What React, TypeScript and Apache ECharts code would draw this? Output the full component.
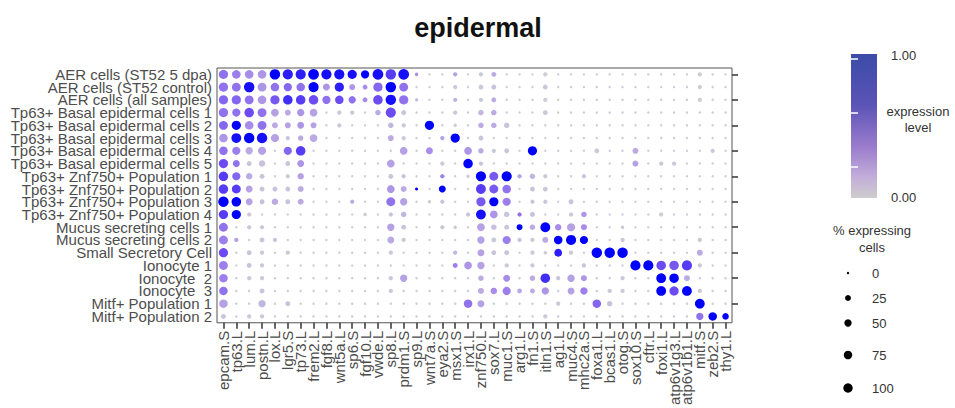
import React, { useEffect, useRef } from "react";
import * as echarts from "echarts";

const titleText = "epidermal";

const genes = [
  "epcam.S", "tp63.L", "lum.L", "postn.L", "lox.L", "lgr5.S", "tp73.L", "frem2.L", "fgf8.L", "wnt5a.L",
  "sp6.S", "fgf10.L", "vwde.L", "sp8.L", "prdm1.S", "sp9.L", "wnt7a.S", "eya2.S", "msx1.S", "irx1.L",
  "znf750.L", "sox7.L", "muc1.S", "arg1.L", "fn1.S", "itln1.S", "ag1.L", "muc4.S", "mhc2a.S", "foxa1.L",
  "bcas1.L", "otog.S", "sox10.S", "cftr.L", "foxi1.L", "atp6v1g3.L", "atp6v1b1.L", "mitf.S", "zeb2.S", "thy1.L",
];

const cellTypes = [
  "AER cells (ST52 5 dpa)",
  "AER cells (ST52 control)",
  "AER cells (all samples)",
  "Tp63+ Basal epidermal cells 1",
  "Tp63+ Basal epidermal cells 2",
  "Tp63+ Basal epidermal cells 3",
  "Tp63+ Basal epidermal cells 4",
  "Tp63+ Basal epidermal cells 5",
  "Tp63+ Znf750+ Population 1",
  "Tp63+ Znf750+ Population 2",
  "Tp63+ Znf750+ Population 3",
  "Tp63+ Znf750+ Population 4",
  "Mucus secreting cells 1",
  "Mucus secreting cells 2",
  "Small Secretory Cell",
  "Ionocyte 1",
  "Ionocyte  2",
  "Ionocyte  3",
  "Mitf+ Population 1",
  "Mitf+ Population 2",
];

// % expressing cells, one row per cell type (same order as cellTypes), one value per gene
const pctByCell = [
  [70,60,60,60,90,85,85,95,85,85,70,55,95,90,95,10,5,5,15,5,15,20,5,5,5,15,5,5,5,5,5,5,5,5,5,5,5,15,5,5],
  [70,65,90,65,60,55,60,85,40,70,30,20,70,90,65,5,5,5,15,5,20,20,5,5,5,20,5,5,5,5,5,5,5,5,5,5,5,15,5,5],
  [70,70,65,60,70,75,75,75,55,60,45,20,75,90,70,8,5,5,15,5,15,20,5,5,5,15,5,5,5,5,5,5,5,5,5,5,5,15,5,5],
  [70,55,75,65,50,30,45,50,5,15,15,5,25,85,20,5,5,5,15,5,25,25,5,5,5,20,5,5,5,5,5,5,5,5,5,5,5,5,5,5],
  [65,70,60,65,30,30,40,30,5,15,5,5,5,25,15,5,70,5,10,5,25,25,25,5,5,5,5,5,5,5,5,5,5,5,5,5,5,5,5,5],
  [60,80,90,90,55,15,25,50,5,5,5,5,5,30,15,5,5,15,70,5,20,5,5,5,5,5,5,5,5,5,5,5,5,5,5,5,5,5,5,5],
  [60,55,45,55,5,55,75,5,5,5,5,5,5,5,50,5,40,5,5,50,25,15,20,5,70,5,5,5,5,20,5,5,30,5,5,5,5,5,15,5],
  [70,40,20,35,5,20,40,5,5,5,5,5,5,50,5,5,5,15,5,75,15,5,5,5,5,5,5,5,5,5,5,5,30,5,15,15,5,5,5,5],
  [75,55,35,20,5,15,35,5,5,5,5,5,5,20,15,5,5,15,5,10,85,65,85,15,25,15,5,5,15,5,5,5,5,5,5,5,5,5,5,5],
  [75,65,40,20,20,20,30,5,5,5,5,5,5,50,30,8,5,40,5,5,80,65,60,5,20,20,5,5,5,5,5,5,5,5,5,5,5,5,5,5],
  [90,75,40,20,35,20,30,5,5,5,15,5,5,65,45,5,10,15,5,5,70,70,55,5,15,15,5,20,5,5,5,5,5,5,5,5,5,5,5,5],
  [70,70,15,5,5,5,5,5,5,5,5,10,5,15,25,5,5,5,5,15,80,50,25,15,20,5,5,15,25,5,5,5,5,5,15,5,5,5,5,5],
  [65,5,15,15,5,5,5,5,5,5,5,5,5,45,20,5,5,15,10,5,50,25,20,30,25,80,35,55,30,5,5,10,5,5,5,5,5,5,5,5],
  [65,15,5,20,15,5,5,5,5,5,5,5,5,40,15,5,5,5,5,5,45,20,55,15,15,30,60,85,55,5,5,15,5,5,5,5,5,15,5,5],
  [70,5,20,15,5,15,5,5,5,5,5,5,5,15,5,5,5,5,15,5,40,20,20,5,15,10,50,15,5,90,90,90,5,5,5,5,5,30,5,5],
  [65,5,20,15,5,5,5,5,5,5,5,5,5,5,5,5,5,5,20,50,45,5,15,5,15,5,5,5,15,5,5,5,85,85,75,75,85,15,5,5],
  [60,5,15,15,5,5,5,5,5,5,5,5,5,15,45,5,5,5,5,5,25,5,40,5,25,75,15,45,30,5,5,15,5,5,80,75,30,5,5,5],
  [60,5,5,20,5,5,5,5,5,5,5,5,5,15,5,5,5,5,5,5,30,35,55,20,20,45,5,40,45,5,15,15,5,5,80,70,80,15,5,5],
  [60,5,5,45,5,20,5,5,5,5,5,5,5,5,5,5,5,5,5,60,40,5,5,5,5,5,15,5,5,60,25,5,5,5,5,5,5,80,5,5],
  [20,5,15,15,5,5,5,5,5,5,5,5,5,5,5,5,5,5,5,5,5,5,5,5,5,15,5,5,5,5,5,5,5,5,5,5,5,45,60,35],
];

// scaled expression level (0-100 = 0.00-1.00), same layout as pctByCell
const exprByCell = [
  [60,55,50,45,100,90,90,100,95,95,95,100,95,80,95,50,10,10,40,10,15,35,10,10,10,10,10,10,10,10,10,10,10,10,10,10,10,10,10,10],
  [60,60,95,45,60,65,60,100,45,90,45,50,65,100,60,10,10,10,15,10,15,25,10,10,10,15,10,10,10,10,10,10,10,10,10,10,10,10,10,10],
  [65,65,60,45,70,85,80,75,60,75,60,50,75,95,60,30,10,10,30,10,15,35,10,10,10,10,10,10,10,10,10,10,10,10,10,10,10,10,10,10],
  [60,60,75,60,40,35,45,40,10,15,15,10,35,75,20,10,10,10,15,10,30,35,10,10,10,15,10,10,10,10,10,10,10,10,10,10,10,10,10,10],
  [65,100,50,60,35,40,45,40,10,15,10,10,10,30,15,10,100,10,10,10,35,35,20,10,10,10,10,10,10,10,10,10,10,10,10,10,10,10,10,10],
  [45,95,100,95,40,20,35,35,10,10,10,10,10,35,15,10,10,40,100,10,20,10,10,10,10,10,10,10,10,10,10,10,10,10,10,10,10,10,10,10],
  [60,55,35,40,10,65,80,10,10,10,10,10,10,10,40,10,50,10,10,45,35,15,20,10,100,10,10,10,10,15,10,10,35,10,10,10,10,10,15,10],
  [75,60,20,25,10,20,45,10,10,10,10,10,10,40,10,10,10,15,10,100,20,10,10,10,10,10,10,10,10,10,10,10,40,10,15,15,10,10,10,10],
  [80,65,35,20,10,15,40,10,10,10,10,10,10,20,20,10,10,55,10,10,100,70,100,40,30,15,10,10,20,10,10,10,10,10,10,10,10,10,10,10],
  [80,80,40,20,25,20,35,10,10,10,10,10,10,45,35,100,10,100,10,10,80,70,60,10,20,15,10,10,10,10,10,10,10,10,10,10,10,10,10,10],
  [100,100,40,25,35,20,35,10,10,10,35,10,10,60,40,10,10,20,10,10,70,100,55,10,20,20,10,20,10,10,10,10,10,10,10,10,10,10,10,10],
  [80,100,15,10,10,10,10,10,10,10,10,15,10,20,30,10,10,10,10,20,95,45,20,60,25,10,10,15,45,10,10,10,10,10,10,10,10,10,10,10],
  [60,10,15,15,10,10,10,10,10,10,10,10,10,40,20,10,10,15,15,10,40,25,20,100,35,100,50,40,50,10,10,15,10,10,10,10,10,10,10,10],
  [55,40,10,20,20,10,10,10,10,10,10,10,10,35,15,10,10,10,10,10,40,15,55,20,15,35,100,100,100,10,10,15,10,10,10,10,10,15,10,10],
  [75,10,20,15,10,15,10,10,10,10,10,10,10,15,10,10,10,10,30,10,40,20,20,10,15,15,90,15,10,100,100,100,10,10,10,10,10,35,10,10],
  [55,10,20,15,10,10,10,10,10,10,10,10,10,10,10,10,10,10,55,45,40,10,15,10,15,10,10,10,20,10,10,10,100,100,75,70,80,15,10,10],
  [55,10,15,15,10,10,10,10,10,10,10,10,10,15,40,10,10,10,10,10,35,10,50,10,35,85,20,40,45,10,10,15,10,10,100,100,35,10,10,10],
  [60,10,10,20,10,10,10,10,10,10,10,10,10,15,10,10,10,10,10,10,35,50,55,35,35,45,10,40,55,10,15,15,10,10,100,75,100,15,10,10],
  [40,10,10,30,10,20,10,10,10,10,10,10,10,10,10,10,10,10,10,60,40,10,10,10,10,10,15,10,10,65,20,10,10,10,10,10,10,100,10,10],
  [20,10,15,15,10,10,10,10,10,10,10,10,10,10,10,10,10,10,10,10,10,10,10,10,10,15,10,10,10,10,10,10,10,10,10,10,10,60,100,100],
];

const colorLegendLabels = ["1.00", "0.00"];
const sizeLegendValues = [0, 25, 50, 75, 100];

const FONT = "'Liberation Sans', Arial, Helvetica, sans-serif";
const dotColors = ["#d3d3d3", "#c8c0dc", "#a88cea", "#6c4cf2", "#0000ff"];

function dotSize(p: number) {
  return Math.max(2.3, 11 * Math.sqrt(p / 100));
}
function legendDotSize(p: number) {
  return 2.4 + 7 * Math.sqrt(p / 100);
}

export default function App() {
  const ref = useRef<HTMLDivElement>(null);

  useEffect(() => {
    if (!ref.current) return;
    const chart = echarts.init(ref.current, undefined, { renderer: "svg" });

    const data: number[][] = [];
    pctByCell.forEach((row, r) => {
      row.forEach((p, c) => {
        data.push([c, r, p, exprByCell[r][c]]);
      });
    });

    const legendY = [273, 298, 323, 355, 388];
    const graphics: any[] = [
      {
        type: "rect",
        shape: { x: 851, y: 54, width: 26, height: 144 },
        style: {
          fill: {
            type: "linear", x: 0, y: 0, x2: 0, y2: 1,
            colorStops: [
              { offset: 0, color: "#3c4ca8" },
              { offset: 0.35, color: "#5b53b6" },
              { offset: 0.65, color: "#9c7dcd" },
              { offset: 0.85, color: "#c2acd9" },
              { offset: 1, color: "#cdcdcd" },
            ],
          },
        },
      },
      ...[59, 113, 167].map((y) => ({
        type: "line",
        shape: { x1: 851, y1: y, x2: 858, y2: y },
        style: { stroke: "#ffffff", lineWidth: 1.5 },
      })),
      {
        type: "text", x: 891, y: 55,
        style: { text: colorLegendLabels[0], font: `13px ${FONT}`, fill: "#333", verticalAlign: "middle", align: "left" },
      },
      {
        type: "text", x: 891, y: 197,
        style: { text: colorLegendLabels[1], font: `13px ${FONT}`, fill: "#333", verticalAlign: "middle", align: "left" },
      },
      {
        type: "text", x: 918, y: 119,
        style: { text: "expression\nlevel", font: `13px ${FONT}`, fill: "#333", verticalAlign: "middle", align: "center", lineHeight: 16 },
      },
      {
        type: "text", x: 872, y: 239,
        style: { text: "% expressing\ncells", font: `13px ${FONT}`, fill: "#333", verticalAlign: "middle", align: "center", lineHeight: 17 },
      },
      ...sizeLegendValues.map((v, i) => ({
        type: "circle",
        shape: { cx: 848, cy: legendY[i], r: legendDotSize(v) / 2 },
        style: { fill: "#000" },
      })),
      ...sizeLegendValues.map((v, i) => ({
        type: "text", x: 872, y: legendY[i],
        style: { text: String(v), font: `13px ${FONT}`, fill: "#333", verticalAlign: "middle", align: "left" },
      })),
    ];

    chart.setOption({
      animation: false,
      backgroundColor: "#ffffff",
      title: {
        text: titleText,
        left: 473,
        top: 9,
        textAlign: "center",
        textStyle: { fontFamily: FONT, fontWeight: "bold", fontSize: 27, color: "#111" },
      },
      grid: {
        left: 217,
        right: 223,
        top: 68,
        bottom: 83,
        show: true,
        borderColor: "#555",
        borderWidth: 1,
        backgroundColor: "transparent",
        containLabel: false,
      },
      xAxis: {
        type: "category",
        data: genes,
        boundaryGap: true,
        axisLine: { show: false },
        axisTick: { show: true, alignWithLabel: true, length: 6, lineStyle: { color: "#333", width: 1.5 } },
        axisLabel: { rotate: 90, interval: 0, fontSize: 15, lineHeight: 12, color: "#4d4d4d", fontFamily: FONT, margin: 8 },
        splitLine: { show: false },
      },
      yAxis: [
        {
          type: "category",
          data: cellTypes,
          inverse: true,
          axisLine: { show: false },
          axisTick: { show: false },
          axisLabel: { interval: 0, fontSize: 15, lineHeight: 12, color: "#4d4d4d", fontFamily: FONT, margin: 5 },
          splitLine: { show: false },
        },
        {
          type: "category",
          data: cellTypes,
          inverse: true,
          position: "right",
          axisLine: { show: false },
          axisTick: { show: true, alignWithLabel: true, length: 6, lineStyle: { color: "#333", width: 1.5 } },
          axisLabel: { show: false },
          splitLine: { show: false },
        },
      ],
      visualMap: {
        show: false,
        type: "continuous",
        dimension: 3,
        min: 0,
        max: 100,
        seriesIndex: 0,
        inRange: { color: dotColors },
      },
      series: [
        {
          type: "scatter",
          xAxisIndex: 0,
          yAxisIndex: 0,
          data,
          symbol: "circle",
          symbolSize: (v: number[]) => dotSize(v[2]),
          itemStyle: { opacity: 1 },
          emphasis: { disabled: true },
        },
      ],
      graphic: graphics,
    });

    return () => chart.dispose();
  }, []);

  return (
    <div
      ref={ref}
      style={{ position: "absolute", left: 0, top: 0, width: 955, height: 408 }}
    />
  );
}
